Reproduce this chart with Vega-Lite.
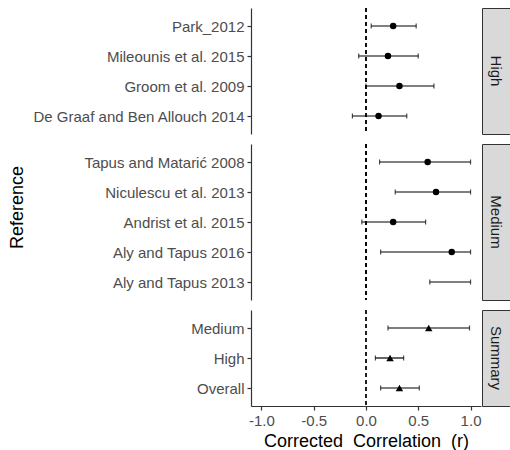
{
  "$schema": "https://vega.github.io/schema/vega-lite/v6.json",
  "padding": {"left": 8, "top": 7, "right": 0, "bottom": 0},
  "datasets": {
    "d": [
      {"group": "High", "ref": "Park_2012", "est": 0.26, "lo": 0.05, "hi": 0.48},
      {"group": "High", "ref": "Mileounis et al. 2015", "est": 0.21, "lo": -0.07, "hi": 0.50},
      {"group": "High", "ref": "Groom et al. 2009", "est": 0.32, "lo": 0.0, "hi": 0.65},
      {"group": "High", "ref": "De Graaf and Ben Allouch 2014", "est": 0.12, "lo": -0.13, "hi": 0.39},
      {"group": "Medium", "ref": "Tapus and Matarić 2008", "est": 0.59, "lo": 0.13, "hi": 1.0},
      {"group": "Medium", "ref": "Niculescu et al. 2013", "est": 0.67, "lo": 0.28, "hi": 1.0},
      {"group": "Medium", "ref": "Andrist et al. 2015", "est": 0.26, "lo": -0.04, "hi": 0.57},
      {"group": "Medium", "ref": "Aly and Tapus 2016", "est": 0.82, "lo": 0.14, "hi": 1.0},
      {"group": "Medium", "ref": "Aly and Tapus 2013", "est": null, "lo": 0.61, "hi": 1.0},
      {"group": "Summary", "ref": "Medium", "est": 0.60, "lo": 0.21, "hi": 0.99},
      {"group": "Summary", "ref": "High", "est": 0.23, "lo": 0.09, "hi": 0.36},
      {"group": "Summary", "ref": "Overall", "est": 0.32, "lo": 0.14, "hi": 0.51}
    ],
    "strips": [{"label": "High"}, {"label": "Medium"}, {"label": "Summary"}]
  },
  "resolve": {"scale": {"x": "independent", "y": "independent"}},
  "spacing": 8,
  "vconcat": [
    {
      "spacing": 0,
      "hconcat": [
        {
          "width": 230, "height": 126,
          "data": {"name": "d"},
          "transform": [{"filter": "datum.group === 'High'"}],
          "encoding": {
            "y": {"field": "ref", "type": "nominal",
                  "sort": ["Park_2012", "Mileounis et al. 2015", "Groom et al. 2009", "De Graaf and Ben Allouch 2014"],
                  "scale": {"type": "point", "padding": 0.6},
                  "axis": {"title": "Reference", "titleOpacity": 0}}
          },
          "layer": [
            {"mark": {"type": "rule", "strokeDash": [4, 3], "color": "black", "strokeWidth": 1},
             "encoding": {"x": {"datum": 0, "type": "quantitative", "scale": {"domain": [-1.1, 1.1], "nice": false, "zero": false}, "axis": null}, "y": null}},
            {"mark": {"type": "rule", "color": "black", "strokeWidth": 1.2},
             "encoding": {"x": {"field": "lo", "type": "quantitative"}, "x2": {"field": "hi"}}},
            {"mark": {"type": "tick", "color": "black", "size": 5, "thickness": 1.2, "orient": "vertical"},
             "encoding": {"x": {"field": "lo", "type": "quantitative"}}},
            {"mark": {"type": "tick", "color": "black", "size": 5, "thickness": 1.2, "orient": "vertical"},
             "encoding": {"x": {"field": "hi", "type": "quantitative"}}},
            {"mark": {"type": "point", "shape": "circle", "filled": true, "color": "black", "size": 42, "opacity": 1},
             "transform": [{"filter": "isValid(datum.est)"}],
             "encoding": {"x": {"field": "est", "type": "quantitative"}}}
          ]
        },
        {
          "width": 28, "height": 126,
          "view": {"fill": "#d9d9d9", "stroke": "#333333"},
          "data": {"name": "strips"},
          "transform": [{"filter": "datum.label === 'High'"}],
          "mark": {"type": "text", "angle": 90, "fontSize": 15, "color": "#1a1a1a", "align": "center", "baseline": "middle"},
          "encoding": {"text": {"field": "label"}}
        }
      ]
    },
    {
      "spacing": 0,
      "hconcat": [
        {
          "width": 230, "height": 156,
          "data": {"name": "d"},
          "transform": [{"filter": "datum.group === 'Medium'"}],
          "encoding": {
            "y": {"field": "ref", "type": "nominal",
                  "sort": ["Tapus and Matarić 2008", "Niculescu et al. 2013", "Andrist et al. 2015", "Aly and Tapus 2016", "Aly and Tapus 2013"],
                  "scale": {"type": "point", "padding": 0.6},
                  "axis": {"title": "Reference", "titleY": 63}}
          },
          "layer": [
            {"mark": {"type": "rule", "strokeDash": [4, 3], "color": "black", "strokeWidth": 1},
             "encoding": {"x": {"datum": 0, "type": "quantitative", "scale": {"domain": [-1.1, 1.1], "nice": false, "zero": false}, "axis": null}, "y": null}},
            {"mark": {"type": "rule", "color": "black", "strokeWidth": 1.2},
             "encoding": {"x": {"field": "lo", "type": "quantitative"}, "x2": {"field": "hi"}}},
            {"mark": {"type": "tick", "color": "black", "size": 5, "thickness": 1.2, "orient": "vertical"},
             "encoding": {"x": {"field": "lo", "type": "quantitative"}}},
            {"mark": {"type": "tick", "color": "black", "size": 5, "thickness": 1.2, "orient": "vertical"},
             "encoding": {"x": {"field": "hi", "type": "quantitative"}}},
            {"mark": {"type": "point", "shape": "circle", "filled": true, "color": "black", "size": 42, "opacity": 1},
             "transform": [{"filter": "isValid(datum.est)"}],
             "encoding": {"x": {"field": "est", "type": "quantitative"}}}
          ]
        },
        {
          "width": 28, "height": 156,
          "view": {"fill": "#d9d9d9", "stroke": "#333333"},
          "data": {"name": "strips"},
          "transform": [{"filter": "datum.label === 'Medium'"}],
          "mark": {"type": "text", "angle": 90, "fontSize": 15, "color": "#1a1a1a", "align": "center", "baseline": "middle"},
          "encoding": {"text": {"field": "label"}}
        }
      ]
    },
    {
      "spacing": 0,
      "hconcat": [
        {
          "width": 230, "height": 96,
          "data": {"name": "d"},
          "transform": [{"filter": "datum.group === 'Summary'"}],
          "encoding": {
            "y": {"field": "ref", "type": "nominal",
                  "sort": ["Medium", "High", "Overall"],
                  "scale": {"type": "point", "padding": 0.6},
                  "axis": {"title": "Reference", "titleOpacity": 0}}
          },
          "layer": [
            {"mark": {"type": "rule", "strokeDash": [4, 3], "color": "black", "strokeWidth": 1},
             "encoding": {"x": {"datum": 0, "type": "quantitative",
                                "scale": {"domain": [-1.1, 1.1], "nice": false, "zero": false},
                                "axis": {"title": "Corrected\u00a0\u00a0Correlation\u00a0\u00a0(r)", "values": [-1, -0.5, 0, 0.5, 1],
                                         "labelExpr": "datum.value < 0 ? '-' + format(-datum.value, '.1f') : format(datum.value, '.1f')",
                                         "titlePadding": 4}}, "y": null}},
            {"mark": {"type": "rule", "color": "black", "strokeWidth": 1.2},
             "encoding": {"x": {"field": "lo", "type": "quantitative"}, "x2": {"field": "hi"}}},
            {"mark": {"type": "tick", "color": "black", "size": 5, "thickness": 1.2, "orient": "vertical"},
             "encoding": {"x": {"field": "lo", "type": "quantitative"}}},
            {"mark": {"type": "tick", "color": "black", "size": 5, "thickness": 1.2, "orient": "vertical"},
             "encoding": {"x": {"field": "hi", "type": "quantitative"}}},
            {"mark": {"type": "point", "shape": "triangle-up", "filled": true, "color": "black", "size": 55, "opacity": 1},
             "encoding": {"x": {"field": "est", "type": "quantitative"}}}
          ]
        },
        {
          "width": 28, "height": 96,
          "view": {"fill": "#d9d9d9", "stroke": "#333333"},
          "data": {"name": "strips"},
          "transform": [{"filter": "datum.label === 'Summary'"}],
          "mark": {"type": "text", "angle": 90, "fontSize": 15, "color": "#1a1a1a", "align": "center", "baseline": "middle"},
          "encoding": {"text": {"field": "label"}}
        }
      ]
    }
  ],
  "config": {
    "font": "Liberation Sans",
    "view": {"stroke": null},
    "axis": {
      "domainColor": "#333333", "tickColor": "#333333", "labelColor": "#4d4d4d",
      "labelFontSize": 15, "titleFontSize": 18, "titleFontWeight": "normal", "titleColor": "#000000",
      "grid": false, "tickSize": 4, "labelPadding": 3, "domainWidth": 1.2, "tickWidth": 1.2, "labelLimit": 0,
      "labelFont": "Liberation Sans", "titleFont": "Liberation Sans"
    },
    "axisY": {"minExtent": 220, "maxExtent": 220, "titlePadding": 5}
  }
}
